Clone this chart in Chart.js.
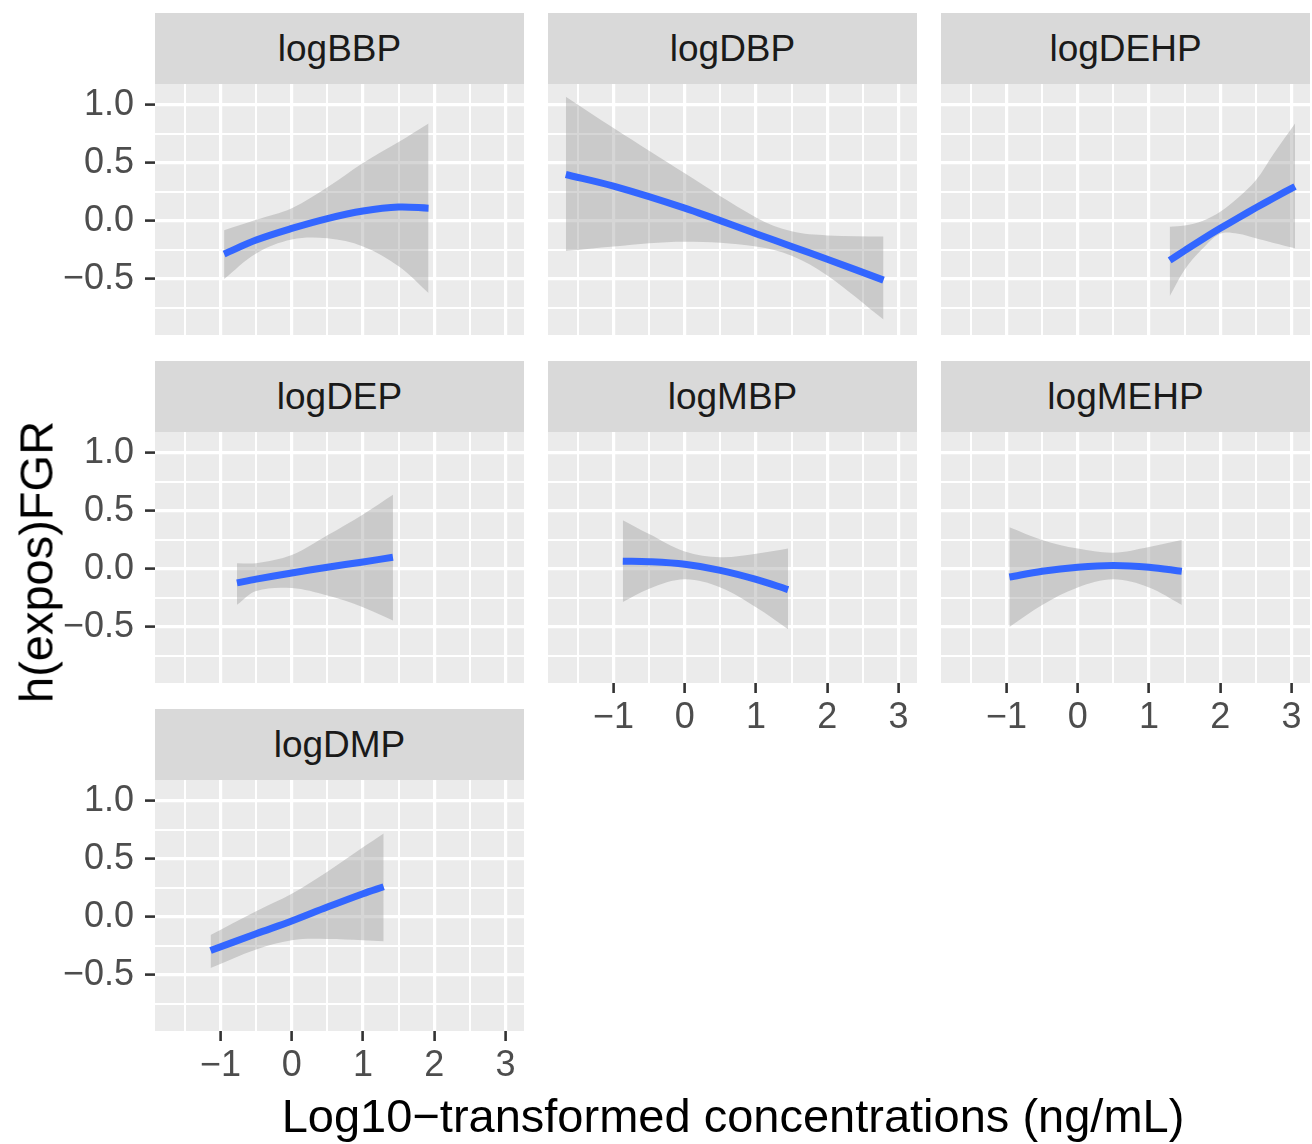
<!DOCTYPE html>
<html>
<head>
<meta charset="utf-8">
<script src="https://cdn.jsdelivr.net/npm/chart.js@4.4.1/dist/chart.umd.min.js"></script>
<style>
  body { margin: 0; background: #fff; font-family: "Liberation Sans", Arial, sans-serif; }
  #page { position: relative; width: 1312px; height: 1144px; overflow: hidden; }
  .strip { position: absolute; background: #D9D9D9; color: #1A1A1A; font-size: 37px; text-align: center; }
  .title { position: absolute; color: #000; font-size: 47px; white-space: nowrap; }
</style>
</head>
<body>
<div id="page"></div>
<script>
// axis breaks and labels
const xBreaks = [-1, 0, 1, 2, 3];
const xLabels = ['\u22121', '0', '1', '2', '3'];
const xMinor = [-1.5, -0.5, 0.5, 1.5, 2.5];
const yBreaks = [-0.5, 0, 0.5, 1.0];
const yLabels = ['\u22120.5', '0.0', '0.5', '1.0'];
const yMinor = [-0.75, -0.25, 0.25, 0.75];

// exposure-response curves (fit + ribbon)
const bbpX = [-0.95, -0.5, 0, 0.5, 1.0, 1.5, 1.92];
const bbpFit = [-0.285, -0.165, -0.065, 0.02, 0.085, 0.12, 0.11];
const bbpLow = [-0.50, -0.28, -0.16, -0.15, -0.22, -0.39, -0.62];
const bbpHigh = [-0.08, 0.01, 0.11, 0.29, 0.50, 0.68, 0.84];

const dbpX = [-1.67, -1, 0, 1, 1.5, 2, 2.79];
const dbpFit = [0.40, 0.30, 0.11, -0.11, -0.22, -0.33, -0.51];
const dbpLow = [-0.26, -0.22, -0.18, -0.22, -0.30, -0.47, -0.85];
const dbpHigh = [1.07, 0.80, 0.41, 0.03, -0.09, -0.125, -0.135];

const dehpX = [1.29, 1.5, 1.75, 2.0, 2.25, 2.5, 2.75, 3.05];
const dehpFit = [-0.34, -0.256, -0.158, -0.064, 0.026, 0.113, 0.198, 0.297];
const dehpLow = [-0.65, -0.42, -0.24, -0.11, -0.11, -0.15, -0.19, -0.235];
const dehpHigh = [-0.05, -0.04, 0.00, 0.08, 0.20, 0.35, 0.58, 0.84];

const depX = [-0.77, -0.5, 0, 0.5, 1.0, 1.42];
const depFit = [-0.12, -0.088, -0.035, 0.015, 0.06, 0.10];
const depLow = [-0.31, -0.19, -0.165, -0.23, -0.33, -0.445];
const depHigh = [0.05, 0.05, 0.12, 0.29, 0.47, 0.64];

const mbpX = [-0.87, -0.5, 0, 0.5, 1.0, 1.45];
const mbpFit = [0.066, 0.062, 0.04, -0.012, -0.09, -0.178];
const mbpLow = [-0.285, -0.17, -0.09, -0.16, -0.33, -0.52];
const mbpHigh = [0.42, 0.30, 0.15, 0.10, 0.13, 0.175];

const mehpX = [-0.96, -0.5, 0, 0.5, 1.0, 1.46];
const mehpFit = [-0.07, -0.02, 0.015, 0.03, 0.015, -0.02];
const mehpLow = [-0.50, -0.31, -0.16, -0.09, -0.16, -0.31];
const mehpHigh = [0.36, 0.25, 0.175, 0.14, 0.19, 0.25];

const dmpX = [-1.14, -0.5, 0, 0.5, 1.0, 1.29];
const dmpFit = [-0.29, -0.145, -0.035, 0.085, 0.20, 0.26];
const dmpLow = [-0.44, -0.28, -0.20, -0.19, -0.20, -0.21];
const dmpHigh = [-0.155, 0.05, 0.20, 0.39, 0.60, 0.72];

const panels = [
  { name: 'logBBP', x: bbpX, fit: bbpFit, lo: bbpLow, hi: bbpHigh, row: 0, col: 0 },
  { name: 'logDBP', x: dbpX, fit: dbpFit, lo: dbpLow, hi: dbpHigh, row: 0, col: 1 },
  { name: 'logDEHP', x: dehpX, fit: dehpFit, lo: dehpLow, hi: dehpHigh, row: 0, col: 2 },
  { name: 'logDEP', x: depX, fit: depFit, lo: depLow, hi: depHigh, row: 1, col: 0 },
  { name: 'logMBP', x: mbpX, fit: mbpFit, lo: mbpLow, hi: mbpHigh, row: 1, col: 1, showX: true },
  { name: 'logMEHP', x: mehpX, fit: mehpFit, lo: mehpLow, hi: mehpHigh, row: 1, col: 2, showX: true },
  { name: 'logDMP', x: dmpX, fit: dmpFit, lo: dmpLow, hi: dmpHigh, row: 2, col: 0, showX: true },
];

// layout (px)
const colLeft = [155, 548, 941];
const rowTop = [84, 432, 780];
const PW = 369, PH = 251, STRIP_H = 71;
const YAXIS_W = 155, XAXIS_H = 62;
const X_MIN = -1.92, X_MAX = 3.26, Y_MIN = -0.983, Y_MAX = 1.18;

const xGrid = [...xBreaks, ...xMinor].sort((a, b) => a - b);
const yGrid = [...yBreaks, ...yMinor].sort((a, b) => a - b);
const findIdx = (arr, v) => arr.findIndex(b => Math.abs(b - v) < 1e-9);
const tickFont = { family: '"Liberation Sans", Arial, sans-serif', size: 36 };

const panelBg = {
  id: 'panelBg',
  beforeDraw(chart) {
    const { ctx, chartArea: a } = chart;
    ctx.save();
    ctx.fillStyle = '#EBEBEB';
    ctx.fillRect(a.left, a.top, a.right - a.left, a.bottom - a.top);
    ctx.restore();
  }
};

const page = document.getElementById('page');

panels.forEach(p => {
  const showY = p.col === 0;
  const showX = !!p.showX;
  const left = colLeft[p.col], top = rowTop[p.row];

  const strip = document.createElement('div');
  strip.className = 'strip';
  strip.style.cssText = `left:${left}px;top:${top - STRIP_H}px;width:${PW}px;height:${STRIP_H}px;line-height:${STRIP_H}px;`;
  strip.textContent = p.name;
  page.appendChild(strip);

  const cw = PW + (showY ? YAXIS_W : 0);
  const ch = PH + (showX ? XAXIS_H : 0);
  const cv = document.createElement('canvas');
  cv.width = cw; cv.height = ch;
  cv.style.cssText = `position:absolute;left:${left - (showY ? YAXIS_W : 0)}px;top:${top}px;width:${cw}px;height:${ch}px;`;
  page.appendChild(cv);

  const pts = ys => p.x.map((x, i) => ({ x, y: ys[i] }));
  const lineOpts = { pointRadius: 0, tension: 0.35 };

  new Chart(cv.getContext('2d'), {
    type: 'line',
    data: {
      datasets: [
        { data: pts(p.fit), borderColor: '#3366FF', borderWidth: 7, fill: false, ...lineOpts },
        { data: pts(p.hi), borderWidth: 0, borderColor: 'rgba(0,0,0,0)', backgroundColor: 'rgba(153,153,153,0.4)', fill: '+1', ...lineOpts },
        { data: pts(p.lo), borderWidth: 0, borderColor: 'rgba(0,0,0,0)', fill: false, ...lineOpts },
      ]
    },
    options: {
      responsive: false,
      animation: false,
      devicePixelRatio: 1,
      layout: { padding: 0 },
      plugins: { legend: { display: false }, tooltip: { enabled: false } },
      scales: {
        x: {
          type: 'linear', min: X_MIN, max: X_MAX,
          afterBuildTicks: s => { s.ticks = xGrid.map(v => ({ value: v })); },
          afterFit: s => {
            s.height = showX ? XAXIS_H : 0;
            s.paddingLeft = 0; s.paddingRight = 0; s.paddingTop = 0; s.paddingBottom = 0;
          },
          ticks: {
            display: showX, autoSkip: false, maxRotation: 0, padding: 3,
            font: tickFont, color: '#4D4D4D',
            callback: v => { const i = findIdx(xBreaks, v); return i < 0 ? '' : xLabels[i]; }
          },
          grid: {
            color: '#FFFFFF',
            lineWidth: c => findIdx(xBreaks, c.tick.value) < 0 ? 2 : 3.2,
            drawTicks: showX, tickLength: 10, tickWidth: 2.6,
            tickColor: c => findIdx(xBreaks, c.tick.value) < 0 ? 'rgba(0,0,0,0)' : '#333333'
          },
          border: { display: false }
        },
        y: {
          type: 'linear', min: Y_MIN, max: Y_MAX,
          afterBuildTicks: s => { s.ticks = yGrid.map(v => ({ value: v })); },
          afterFit: s => {
            s.width = showY ? YAXIS_W : 0;
            s.paddingLeft = 0; s.paddingRight = 0; s.paddingTop = 0; s.paddingBottom = 0;
          },
          ticks: {
            display: showY, autoSkip: false, padding: 11,
            font: tickFont, color: '#4D4D4D',
            callback: v => { const i = findIdx(yBreaks, v); return i < 0 ? '' : yLabels[i]; }
          },
          grid: {
            color: '#FFFFFF',
            lineWidth: c => findIdx(yBreaks, c.tick.value) < 0 ? 2 : 3.2,
            drawTicks: showY, tickLength: 10, tickWidth: 2.6,
            tickColor: c => findIdx(yBreaks, c.tick.value) < 0 ? 'rgba(0,0,0,0)' : '#333333'
          },
          border: { display: false }
        }
      }
    },
    plugins: [panelBg]
  });
});

// shared axis titles
const xt = document.createElement('div');
xt.className = 'title';
xt.textContent = 'Log10\u2212transformed concentrations (ng/mL)';
xt.style.cssText = 'left:733px;top:1115px;transform:translate(-50%,-50%);';
page.appendChild(xt);

const yt = document.createElement('div');
yt.className = 'title';
yt.textContent = 'h(expos)FGR';
yt.style.cssText = 'left:36px;top:562px;transform:translate(-50%,-50%) rotate(-90deg);';
page.appendChild(yt);
</script>
</body>
</html>
